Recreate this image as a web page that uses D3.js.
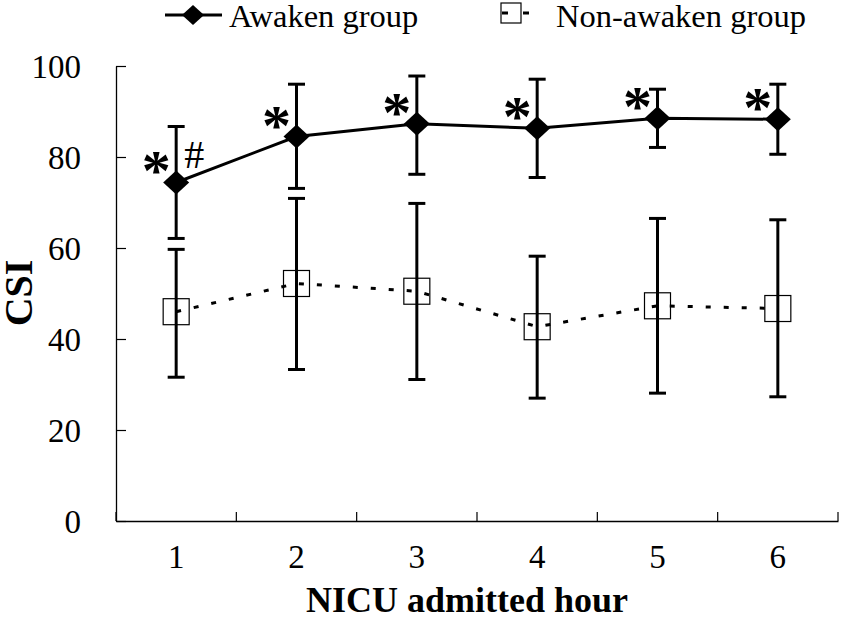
<!DOCTYPE html>
<html><head><meta charset="utf-8">
<script src="https://cdn.jsdelivr.net/npm/d3@7"></script>
<style>body{margin:0;background:#fff}svg{display:block}</style>
</head><body><svg id="c" width="843" height="619"></svg>
<script>
const categories = ["1","2","3","4","5","6"];
const awakenMean = [74.4, 84.5, 87.3, 86.3, 88.5, 88.3];
const awakenHigh = [86.7, 96.0, 97.8, 97.1, 94.9, 96.0];
const awakenLow  = [62.1, 73.1, 76.2, 75.5, 82.1, 80.6];
const nonMean = [46.0, 52.2, 50.5, 42.7, 47.3, 46.7];
const nonHigh = [59.7, 70.9, 69.8, 58.2, 66.5, 66.2];
const nonLow  = [31.6, 33.3, 31.1, 27.0, 28.1, 27.3];
const yTicks = [0, 20, 40, 60, 80, 100];
const starMarks = ["*","*","*","*","*","*"];
const hashMarks = ["#","","","","",""];
const seriesNames = ["Awaken group", "Non-awaken group"];

const FONT = '"Liberation Serif", "Times New Roman", Tinos, serif';
const svg = d3.select("#c");
const x = d3.scaleBand().domain(categories).range([116, 838]).padding(0);
const y = d3.scaleLinear().domain([0, 100]).range([521, 66]);
const cx = c => x(c) + x.bandwidth() / 2;

// Y axis
const ya = svg.append("g").attr("transform", "translate(116,0)")
  .call(d3.axisLeft(y).tickValues(yTicks).tickSizeInner(-10).tickSizeOuter(0).tickPadding(35));
ya.select(".domain").attr("stroke", "#000").attr("stroke-width", 1.3);
ya.selectAll(".tick line").attr("stroke", "#000").attr("stroke-width", 1.2);
ya.selectAll(".tick text").style("font-family", FONT).style("font-size", "33px").attr("dy", "0.34em");

// X axis
const xa = svg.append("g").attr("transform", "translate(0,521)")
  .call(d3.axisBottom(x).tickSize(0).tickPadding(24));
xa.select(".domain").attr("stroke", "#000").attr("stroke-width", 1.3);
xa.selectAll(".tick text").style("font-family", FONT).style("font-size", "33px");
const bounds = categories.map(c => x(c)).concat([x.range()[1]]);
svg.append("g").selectAll("line").data(bounds).join("line")
  .attr("x1", d => d).attr("x2", d => d).attr("y1", 521).attr("y2", 512)
  .attr("stroke", "#000").attr("stroke-width", 1.2);

// Axis titles
svg.append("text").attr("x", 467).attr("y", 612).attr("text-anchor", "middle")
  .style("font-family", FONT).style("font-size", "36px").style("font-weight", "bold").text("NICU admitted hour");
svg.append("text").attr("transform", "translate(32,293) rotate(-90)").attr("text-anchor", "middle")
  .style("font-family", FONT).style("font-size", "40px").style("font-weight", "bold").text("CSI");

// Error bars
function errorBars(hi, lo) {
  const g = svg.append("g").attr("stroke", "#000").attr("stroke-width", 3);
  categories.forEach((c, i) => {
    g.append("line").attr("x1", cx(c)).attr("x2", cx(c)).attr("y1", y(hi[i])).attr("y2", y(lo[i]));
    [hi[i], lo[i]].forEach(v => g.append("line").attr("x1", cx(c) - 8.5).attr("x2", cx(c) + 8.5).attr("y1", y(v)).attr("y2", y(v)));
  });
}
errorBars(awakenHigh, awakenLow);
errorBars(nonHigh, nonLow);

// Lines
const line = d3.line().x((d, i) => cx(categories[i])).y(d => y(d));
svg.append("path").datum(nonMean).attr("d", line).attr("fill", "none").attr("stroke", "#000")
  .attr("stroke-width", 3).attr("stroke-dasharray", "5,13");
svg.append("path").datum(awakenMean).attr("d", line).attr("fill", "none").attr("stroke", "#000").attr("stroke-width", 3);

// Markers
const diamond = "M0,-12L13,0L0,12L-13,0Z";
svg.append("g").selectAll("path").data(awakenMean).join("path")
  .attr("transform", (d, i) => `translate(${cx(categories[i])},${y(d)})`).attr("d", diamond).attr("fill", "#000");
svg.append("g").selectAll("rect").data(nonMean).join("rect")
  .attr("x", (d, i) => cx(categories[i]) - 13).attr("y", d => y(d) - 13).attr("width", 26).attr("height", 26)
  .attr("fill", "none").attr("stroke", "#000").attr("stroke-width", 1.2);

// Significance marks
svg.append("g").selectAll("text").data(starMarks).join("text")
  .attr("x", (d, i) => cx(categories[i]) - 20).attr("y", (d, i) => y(awakenMean[i]) + 8)
  .attr("text-anchor", "middle").style("font-family", FONT).style("font-weight", "bold").style("font-size", "58px").text(d => d);
svg.append("g").selectAll("text").data(hashMarks).join("text")
  .attr("x", (d, i) => cx(categories[i]) + 18).attr("y", (d, i) => y(awakenMean[i]) - 14)
  .attr("text-anchor", "middle").style("font-family", FONT).style("font-size", "40px").text(d => d);

// Legend
const lg = svg.append("g");
lg.append("line").attr("x1", 165).attr("x2", 222).attr("y1", 15).attr("y2", 15).attr("stroke", "#000").attr("stroke-width", 3);
lg.append("path").attr("transform", "translate(193,15)").attr("d", "M0,-10L11,0L0,10L-11,0Z").attr("fill", "#000");
lg.append("text").attr("x", 229).attr("y", 27).style("font-family", FONT).style("font-size", "32.5px").text(seriesNames[0]);
lg.append("line").attr("x1", 502).attr("x2", 529).attr("y1", 13).attr("y2", 13).attr("stroke", "#000").attr("stroke-width", 3).attr("stroke-dasharray", "6,15");
lg.append("rect").attr("x", 501).attr("y", 3).attr("width", 20).attr("height", 20).attr("fill", "none").attr("stroke", "#000").attr("stroke-width", 1.2);
lg.append("text").attr("x", 556).attr("y", 27).style("font-family", FONT).style("font-size", "32.5px").text(seriesNames[1]);
</script></body></html>
